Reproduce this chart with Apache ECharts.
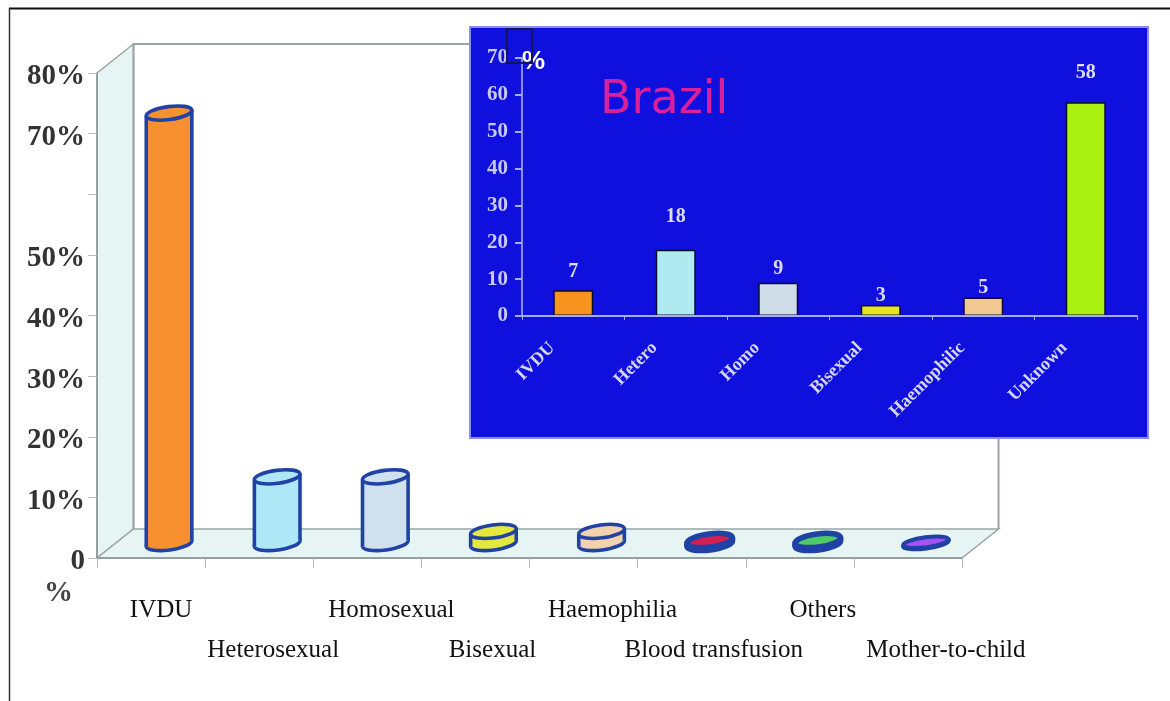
<!DOCTYPE html>
<html>
<head>
<meta charset="utf-8">
<style>html,body{margin:0;padding:0;background:#fff}#c{width:1170px;height:701px}</style>
<script src="https://cdn.jsdelivr.net/npm/echarts@6/dist/echarts.min.js"></script>
</head>
<body>
<div id="c"></div>
<script>
const mainCategories = ['IVDU','Heterosexual','Homosexual','Bisexual','Haemophilia','Blood transfusion','Others','Mother-to-child'];
const mainValues = [71, 11, 11, 2, 2, 0.5, 0.5, 0.2];
const mainColors = ['#f7902f','#aee8f6','#cfe0ee','#e4e83c','#f2d2ae','#d42050','#4fcb66','#a552f2'];
const mainTicks = { 0:'0', 10:'10%', 20:'20%', 30:'30%', 40:'40%', 50:'50%', 60:'', 70:'70%', 80:'80%' };
const mainLabelShift = [20, 28, 48, 34, 58, 44, 46, 76];
const mainLabelRow = [0, 40, 0, 40, 0, 40, 0, 40];

const insetCategories = ['IVDU','Hetero','Homo','Bisexual','Haemophilic','Unknown'];
const insetValues = [7, 18, 9, 3, 5, 58];
const insetColors = ['#f7931e','#aeeaf0','#cfdde8','#e6e61e','#f0c890','#aaf010'];
const insetLabelGap = [8, 23, 4, -1, 0, 19];

const serif = '"Liberation Serif", serif';
const DX = 18, DY = -14.5, RX = 23, TILT = 0.13;
const wallLine = '#9aa6a6', wallFill = '#e6f4f4', outline = '#1f42a4';

function renderWalls(params, api) {
  const c = params.coordSys;
  const l = c.x, r = c.x + c.width, t = c.y, b = c.y + c.height;
  const ox = 36.5, oy = -29;
  return { type:'group', children:[
    { type:'polygon', shape:{points:[[l,t],[l+ox,t+oy],[l+ox,b+oy],[l,b]]}, style:{fill:wallFill, stroke:wallLine, lineWidth:1.5} },
    { type:'polygon', shape:{points:[[l,b],[l+ox,b+oy],[r+ox,b+oy],[r,b]]}, style:{fill:wallFill, stroke:wallLine, lineWidth:1.5} },
    { type:'polyline', shape:{points:[[l+ox,b+oy],[l+ox,t+oy],[r+ox,t+oy],[r+ox,b+oy]]}, style:{fill:'none', stroke:wallLine, lineWidth:2} }
  ]};
}

function renderCylinder(params, api) {
  const i = api.value(0), v = api.value(1), color = mainColors[i];
  const top = api.coord([i, v]);
  const base = api.coord([i, 0]);
  const lw = v < 0.3 ? 4 : (v < 1 ? 5.5 : 3.6);
  const ry = v < 0.3 ? 5 : 6.5;
  const cx = top[0] + DX, ty = top[1] + DY, by = base[1] + DY;
  const dx = RX * Math.cos(TILT), dy = RX * Math.sin(TILT);
  const ell = (cy) => ({ type:'ellipse', shape:{cx:cx, cy:cy, rx:RX, ry:ry}, rotation:TILT, originX:cx, originY:cy,
    style:{fill:color, stroke:outline, lineWidth:lw} });
  return { type:'group', children:[
    ell(by),
    { type:'polygon', shape:{points:[[cx-dx,ty+dy],[cx+dx,ty-dy],[cx+dx,by-dy],[cx-dx,by+dy]]}, style:{fill:color} },
    { type:'line', shape:{x1:cx-dx,y1:ty+dy,x2:cx-dx,y2:by+dy}, style:{stroke:outline, lineWidth:lw} },
    { type:'line', shape:{x1:cx+dx,y1:ty-dy,x2:cx+dx,y2:by-dy}, style:{stroke:outline, lineWidth:lw} },
    ell(ty)
  ]};
}

const chart = echarts.init(document.getElementById('c'), null, { renderer:'canvas' });
chart.setOption({
  animation:false,
  backgroundColor:'#ffffff',
  title:{ text:'Brazil', left:595, top:73, z:8,
    textStyle:{ color:'#d9209c', fontFamily:'"DejaVu Sans", sans-serif', fontSize:46, fontWeight:'normal' } },
  graphic:{ elements:[
    { type:'rect', z:3, shape:{x:470,y:27,width:678,height:411}, style:{fill:'#1010de', stroke:'#8a8cf6', lineWidth:2} },
    { type:'rect', z:8, shape:{x:507,y:29,width:25,height:34}, style:{fill:'none', stroke:'#14145a', lineWidth:2} },
    { type:'line', z:9, shape:{x1:9,y1:8.5,x2:1170,y2:8.5}, style:{stroke:'#111', lineWidth:2} },
    { type:'line', z:9, shape:{x1:9.5,y1:8,x2:9.5,y2:701}, style:{stroke:'#333', lineWidth:1.5} }
  ]},
  grid:[
    { left:97, right:208, top:73, bottom:143 },
    { left:522, right:33, top:58, bottom:385 }
  ],
  xAxis:[
    { type:'category', gridIndex:0, z:2,
      data: mainCategories.map((c,i)=>({ value:c, textStyle:{ padding:[mainLabelRow[i],0,0,mainLabelShift[i]] } })),
      axisLine:{ lineStyle:{ color:'#8c9696', width:1.5 } },
      axisTick:{ show:true, length:10, lineStyle:{ color:'#b4baba' } },
      axisLabel:{ interval:0, margin:40, color:'#111', fontFamily:serif, fontSize:25, hideOverlap:false }
    },
    { type:'category', gridIndex:1, z:6, data:insetCategories,
      axisLine:{ lineStyle:{ color:'#a8aaff', width:2 } },
      axisTick:{ show:true, length:4, lineStyle:{ color:'#a8aaff' } },
      axisLabel:{ interval:0, rotate:45, margin:8, padding:[0,30,0,0], color:'#d5d6f6', fontFamily:serif, fontWeight:'bold', fontSize:18 }
    }
  ],
  yAxis:[
    { type:'value', gridIndex:0, z:2, min:0, max:80, interval:10,
      name:'%', nameLocation:'start', nameGap:36,
      nameTextStyle:{ color:'#444', fontFamily:serif, fontWeight:'bold', fontSize:29, align:'right', verticalAlign:'middle', padding:[0,24,0,0] },
      splitLine:{ show:false },
      axisLine:{ show:true, lineStyle:{ color:'#8c9696', width:1.5 } },
      axisTick:{ show:true, length:9, lineStyle:{ color:'#b8bebe' } },
      axisLabel:{ margin:12, verticalAlign:'top', lineHeight:8, color:'#333', fontFamily:serif, fontWeight:'bold', fontSize:29, formatter:(v)=>mainTicks[v] }
    },
    { type:'value', gridIndex:1, z:6, min:0, max:70, interval:10,
      name:'%', nameLocation:'end', nameGap:-4,
      nameTextStyle:{ color:'#ffffff', fontFamily:'"Liberation Sans", sans-serif', fontWeight:'bold', fontSize:26, align:'left', verticalAlign:'middle' },
      splitLine:{ show:false },
      axisLine:{ show:true, lineStyle:{ color:'#8a8cf6', width:2 } },
      axisTick:{ show:true, length:7, lineStyle:{ color:'#a8aaff', width:2 } },
      axisLabel:{ margin:14, color:'#c8c9f2', fontFamily:serif, fontWeight:'bold', fontSize:21 }
    }
  ],
  series:[
    { type:'custom', xAxisIndex:0, yAxisIndex:0, z:1, silent:true, renderItem:renderWalls, data:[[0,0]], clip:false },
    { type:'custom', xAxisIndex:0, yAxisIndex:0, z:2, renderItem:renderCylinder, clip:false,
      data: mainValues.map((v,i)=>[i,v]) },
    { type:'bar', xAxisIndex:1, yAxisIndex:1, z:5, barWidth:40,
      itemStyle:{ borderColor:'#0b0b30', borderWidth:1.5 },
      data: insetValues.map((v,i)=>({ value:v, itemStyle:{ color:insetColors[i] },
        label:{ show:true, position:'top', distance:insetLabelGap[i], color:'#dcdcf8', fontFamily:serif, fontWeight:'bold', fontSize:20 } })) }
  ]
});
</script>
</body>
</html>
